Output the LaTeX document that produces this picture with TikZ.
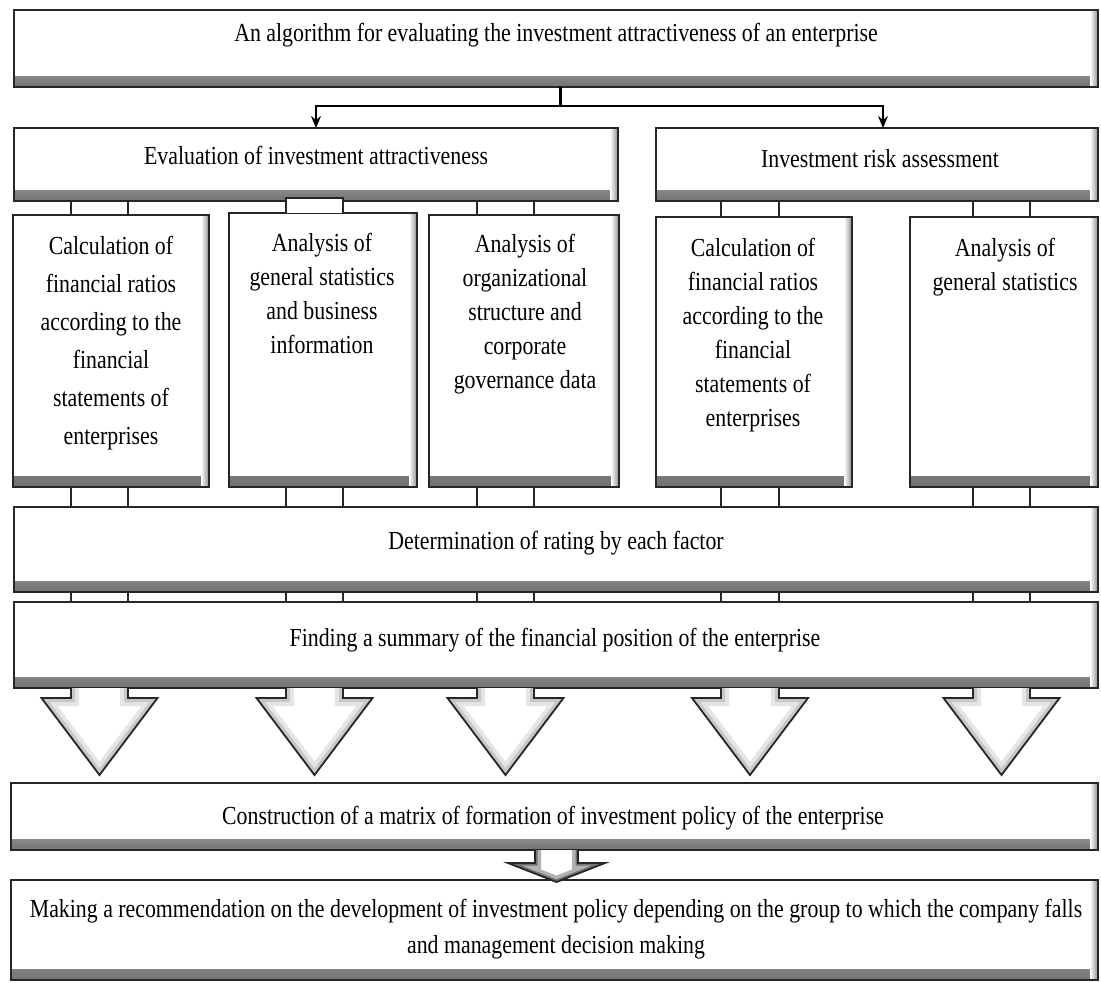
\documentclass[tikz,border=0pt]{standalone}
\usepackage{fontspec}
\setmainfont{Liberation Serif}[FakeStretch=0.84]
\usetikzlibrary{arrows.meta,calc}
\tikzset{
  bevel/.style={path picture={
    \shade[top color=white,bottom color=black!55] ([yshift=11pt]path picture bounding box.south west) rectangle (path picture bounding box.south east);
    \shade[left color=white,right color=black!45] ([xshift=-8pt]path picture bounding box.south east) rectangle (path picture bounding box.north east);
  }},
  box/.style={draw=black!85, line width=2.4pt, fill=white, inner sep=0pt, outer sep=0pt, anchor=north west, bevel},
  txt/.style={align=center, inner sep=0pt, text=black, font=\fontsize{26}{34}\selectfont},
  txtA/.style={txt, font=\fontsize{26}{38}\selectfont},
  txtM/.style={txt, font=\fontsize{26}{36}\selectfont},
  pipe/.style={line width=2.6pt, draw=black!85},
  conn/.style={line width=1.6pt, -{Stealth[length=12pt,width=10pt]}},
  arrowline/.style={line width=1.8pt, draw=black!85, line join=miter},
}
\newcommand\bx[5]{\node[box,minimum width=#4pt,minimum height=#5pt] (#1) at (#2,#3) {};}
\newcommand\pipepair[4]{%
  \draw[pipe] (#3,0 |- #1.south) -- (#3,0 |- #2.north);
  \draw[pipe] (#4,0 |- #1.south) -- (#4,0 |- #2.north);}
\newcommand\bigarrow[3]{%
  \coordinate (#1tip) at ({(#2+#3)/2},775);
  \begin{scope}
    \clip (#2,688) -- (#2,698) -- ($(#1tip)+(-58,-77)$) -- (#1tip) -- ($(#1tip)+(58,-77)$) -- (#3,698) -- (#3,688) -- cycle;
    \fill[white] (0,600) rectangle (1101,800);
    \draw[line width=16pt, black!10] (#2,688) -- (#2,698) -- ($(#1tip)+(-58,-77)$) -- (#1tip) -- ($(#1tip)+(58,-77)$) -- (#3,698) -- (#3,688);
    \draw[line width=8pt, black!22] (#2,688) -- (#2,698) -- ($(#1tip)+(-58,-77)$) -- (#1tip) -- ($(#1tip)+(58,-77)$) -- (#3,698) -- (#3,688);
  \end{scope}
  \draw[arrowline] (#2,688) -- (#2,698) -- ($(#1tip)+(-58,-77)$) -- (#1tip) -- ($(#1tip)+(58,-77)$) -- (#3,698) -- (#3,688);}
\begin{document}
\begin{tikzpicture}[x=1pt,y=-1pt]
\useasboundingbox (0,0) rectangle (1101,983);
\fill[white] (0,0) rectangle (1101,983);

% boxes
\bx{title}{14}{10}{1084}{77}
\bx{eval}{14}{128}{604}{73}
\bx{risk}{656}{128}{442}{73}
\bx{b1}{13}{215}{196}{272}
\bx{b2}{229}{213}{188}{274}
\bx{b3}{429}{215}{190}{272}
\bx{b4}{656}{217}{196}{270}
\bx{b5}{910}{217}{188}{270}
\bx{det}{14}{507}{1084}{85}
\bx{find}{14}{602}{1084}{86}
\bx{constr}{11}{783}{1087}{67}
\bx{make}{11}{880}{1087}{100}

% texts
\node[txt,anchor=base] (titleT) at (556,41) {An algorithm for evaluating the investment attractiveness of an enterprise};
\node[txt,anchor=base] (evalT) at (316,164) {Evaluation of investment attractiveness};
\node[txt,anchor=base] (riskT) at (880,167) {Investment risk assessment};
\node[txtA,anchor=north] (b1T) at (111,236) {Calculation of\\financial ratios\\according to the\\financial\\statements of\\enterprises};
\node[txt,anchor=north] (b2T) at (322,233) {Analysis of\\general statistics\\and business\\information};
\node[txt,anchor=north] (b3T) at (525,234) {Analysis of\\organizational\\structure and\\corporate\\governance data};
\node[txt,anchor=north] (b4T) at (753,238) {Calculation of\\financial ratios\\according to the\\financial\\statements of\\enterprises};
\node[txt,anchor=north] (b5T) at (1005,238) {Analysis of\\general statistics};
\node[txt,anchor=base] (detT) at (556,549) {Determination of rating by each factor};
\node[txt,anchor=base] (findT) at (555,646) {Finding a summary of the financial position of the enterprise};
\node[txt,anchor=base] (constrT) at (553,824) {Construction of a matrix of formation of investment policy of the enterprise};
\node[txtM,anchor=north] (makeT) at (556,899) {Making a recommendation on the development of investment policy depending on the group to which the company falls\\and management decision making};

% top connector
\coordinate (split) at (560,106);
\draw[line width=3pt] (title.south -| split) -- (split);
\draw[conn] (split) -| (eval.north);
\draw[conn] (split) -| (883,0 |- risk.north);

% pipes
\pipepair{eval}{b1}{71}{128}
\draw[pipe,fill=white] (286,0 |- b2.north) -- (286,198) -- (343,198) -- (343,0 |- b2.north);
\pipepair{eval}{b3}{477}{534}
\pipepair{risk}{b4}{721}{779}
\pipepair{risk}{b5}{973}{1030}
\pipepair{b1}{det}{71}{128}
\pipepair{b2}{det}{286}{343}
\pipepair{b3}{det}{477}{534}
\pipepair{b4}{det}{721}{779}
\pipepair{b5}{det}{973}{1030}
\pipepair{det}{find}{71}{128}
\pipepair{det}{find}{286}{343}
\pipepair{det}{find}{477}{534}
\pipepair{det}{find}{721}{779}
\pipepair{det}{find}{973}{1030}

% big arrows
\bigarrow{aA}{71}{128}
\bigarrow{aB}{286}{343}
\bigarrow{aC}{477}{534}
\bigarrow{aD}{721}{779}
\bigarrow{aE}{973}{1030}

% small arrow
\coordinate (stip) at (556.5,882);
\begin{scope}
  \clip (535,850) -- (535,863) -- (508,863) -- (stip) -- (605,863) -- (578,863) -- (578,850) -- cycle;
  \fill[white] (500,845) rectangle (610,885);
  \draw[line width=12pt, black!30] (535,850) -- (535,863) -- (508,863) -- (stip) -- (605,863) -- (578,863) -- (578,850);
  \draw[line width=5pt, black!55] (535,850) -- (535,863) -- (508,863) -- (stip) -- (605,863) -- (578,863) -- (578,850);
\end{scope}
\draw[arrowline] (535,0 |- constr.south) -- (535,863) -- (508,863) -- (stip) -- (605,863) -- (578,863) -- (578,0 |- constr.south);
\end{tikzpicture}
\end{document}
